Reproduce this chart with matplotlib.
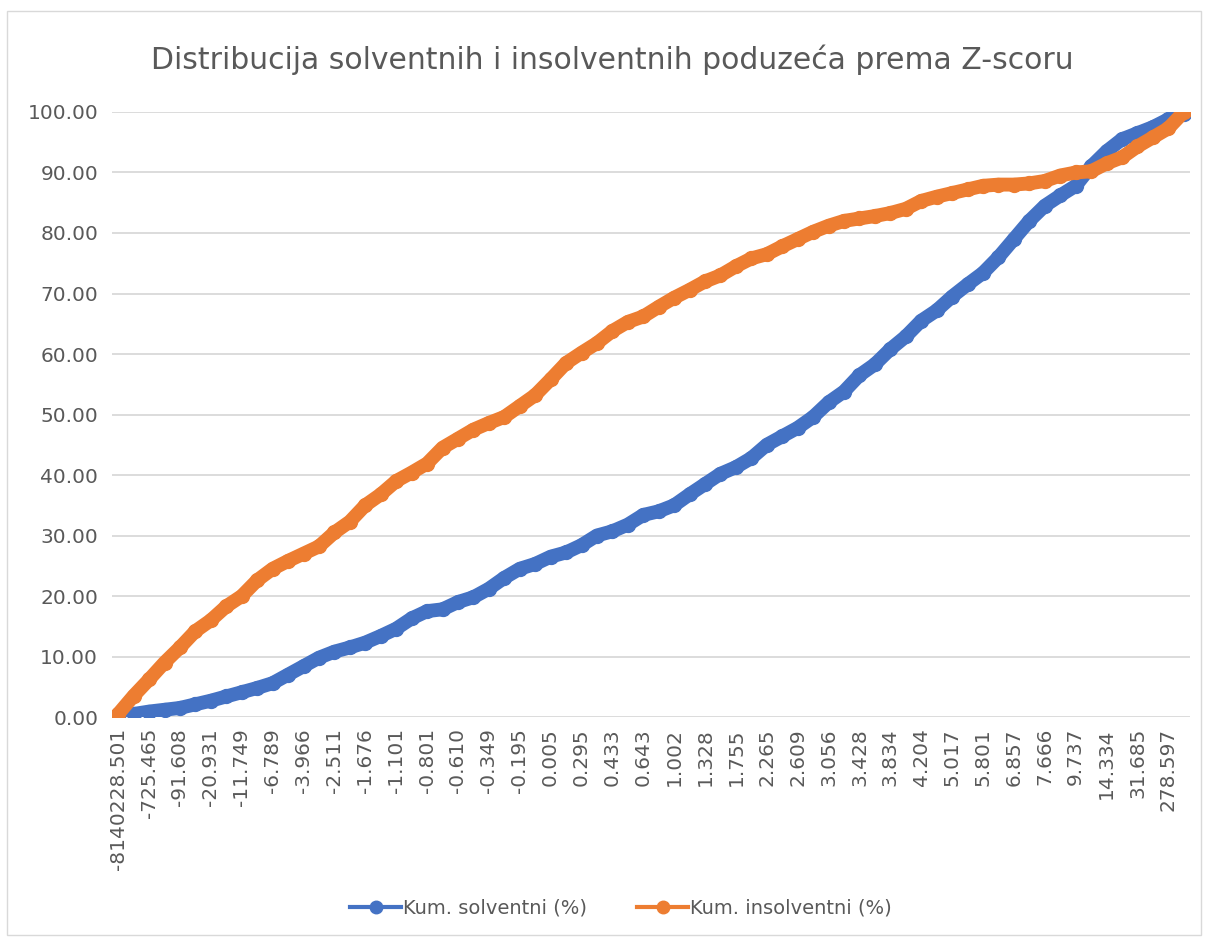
import matplotlib
matplotlib.use("Agg")
import matplotlib.pyplot as plt
from matplotlib.lines import Line2D
from matplotlib.patches import Rectangle
import numpy as np

# Z-score category labels shown on the axis (every second point)
tick_labels = ["-8140228.501", "-725.465", "-91.608", "-20.931", "-11.749", "-6.789",
               "-3.966", "-2.511", "-1.676", "-1.101", "-0.801", "-0.610", "-0.349",
               "-0.195", "0.005", "0.295", "0.433", "0.643", "1.002", "1.328", "1.755",
               "2.265", "2.609", "3.056", "3.428", "3.834", "4.204", "5.017", "5.801",
               "6.857", "7.666", "9.737", "14.334", "31.685", "278.597"]

# cumulative shares (%)
kum_solventni = [0.0, 0.5, 0.9, 1.2, 1.5, 2.1, 2.7, 3.4, 4.1, 4.8,
                 5.6, 7.0, 8.4, 9.8, 10.8, 11.5, 12.3, 13.4, 14.6, 16.3,
                 17.5, 17.8, 19.0, 19.8, 21.2, 23.0, 24.5, 25.3, 26.5, 27.2,
                 28.4, 30.0, 30.7, 31.8, 33.4, 34.0, 35.0, 36.8, 38.5, 40.2,
                 41.3, 42.8, 45.0, 46.4, 47.8, 49.6, 52.0, 53.8, 56.5, 58.3,
                 60.8, 62.9, 65.5, 67.2, 69.5, 71.5, 73.4, 76.0, 79.0, 82.0,
                 84.5, 86.2, 87.8, 91.0, 93.5, 95.5, 96.5, 97.5, 98.8, 99.6]

kum_insolventni = [0.5, 3.5, 6.2, 9.0, 11.5, 14.2, 16.0, 18.3, 20.0, 22.6,
                   24.5, 25.8, 27.0, 28.2, 30.5, 32.3, 35.0, 36.8, 39.0, 40.4,
                   41.9, 44.5, 46.0, 47.5, 48.6, 49.6, 51.4, 53.2, 55.8, 58.5,
                   60.2, 61.8, 63.8, 65.3, 66.2, 67.8, 69.3, 70.6, 72.0, 73.0,
                   74.5, 75.8, 76.5, 77.8, 79.0, 80.2, 81.2, 82.0, 82.4, 82.8,
                   83.3, 84.0, 85.3, 86.0, 86.6, 87.2, 87.8, 88.0, 88.0, 88.2,
                   88.6, 89.5, 90.0, 90.2, 91.5, 92.5, 94.3, 95.8, 97.3, 100.0]

blue = "#4472C4"
orange = "#ED7D31"
grey_text = "#595959"

plt.rcParams['font.family'] = ['DejaVu Sans']

fig = plt.figure(figsize=(12.06, 9.38), dpi=100)
ax = fig.add_axes([0.0929, 0.2356, 0.8938, 0.645])

x = np.arange(len(kum_solventni))
ax.plot(x, kum_solventni, color=blue, lw=10, marker='o', ms=10,
        solid_joinstyle='round', solid_capstyle='round', zorder=3)
ax.plot(x, kum_insolventni, color=orange, lw=10, marker='o', ms=10,
        solid_joinstyle='round', solid_capstyle='round', zorder=4)

ax.set_ylim(0, 100)
ax.set_xlim(-0.4, len(x) - 0.6)
ax.set_yticks(np.arange(0, 101, 10))
ax.set_yticklabels([f"{v:.2f}" for v in np.arange(0, 101, 10)])
ax.set_xticks(np.arange(0, 2 * len(tick_labels), 2))
ax.set_xticklabels(tick_labels, rotation=90)
ax.tick_params(axis='both', length=0, labelsize=14.5, colors=grey_text)
ax.tick_params(axis='x', pad=8)
ax.tick_params(axis='y', pad=10)
ax.grid(axis='y', color="#D9D9D9", lw=1.3)
ax.set_axisbelow(True)
for s in ["top", "right", "left", "bottom"]:
    ax.spines[s].set_visible(False)

fig.text(0.508, 0.936, "Distribucija solventnih i insolventnih poduzeća prema Z-scoru",
         ha='center', va='center', fontsize=21.5, color=grey_text)

handles = [Line2D([], [], color=blue, lw=3, marker='o', ms=9),
           Line2D([], [], color=orange, lw=3, marker='o', ms=9)]
fig.legend(handles, ["Kum. solventni (%)", "Kum. insolventni (%)"],
           loc='center', bbox_to_anchor=(0.515, 0.032), ncol=2, frameon=False,
           fontsize=14, labelcolor=grey_text, handlelength=2.6,
           handletextpad=0.1, columnspacing=2.6)

fig.patches.append(Rectangle((0.006, 0.003), 0.99, 0.985, transform=fig.transFigure,
                             fill=False, edgecolor="#D9D9D9", lw=1))

fig.savefig("out.png", dpi=100)
